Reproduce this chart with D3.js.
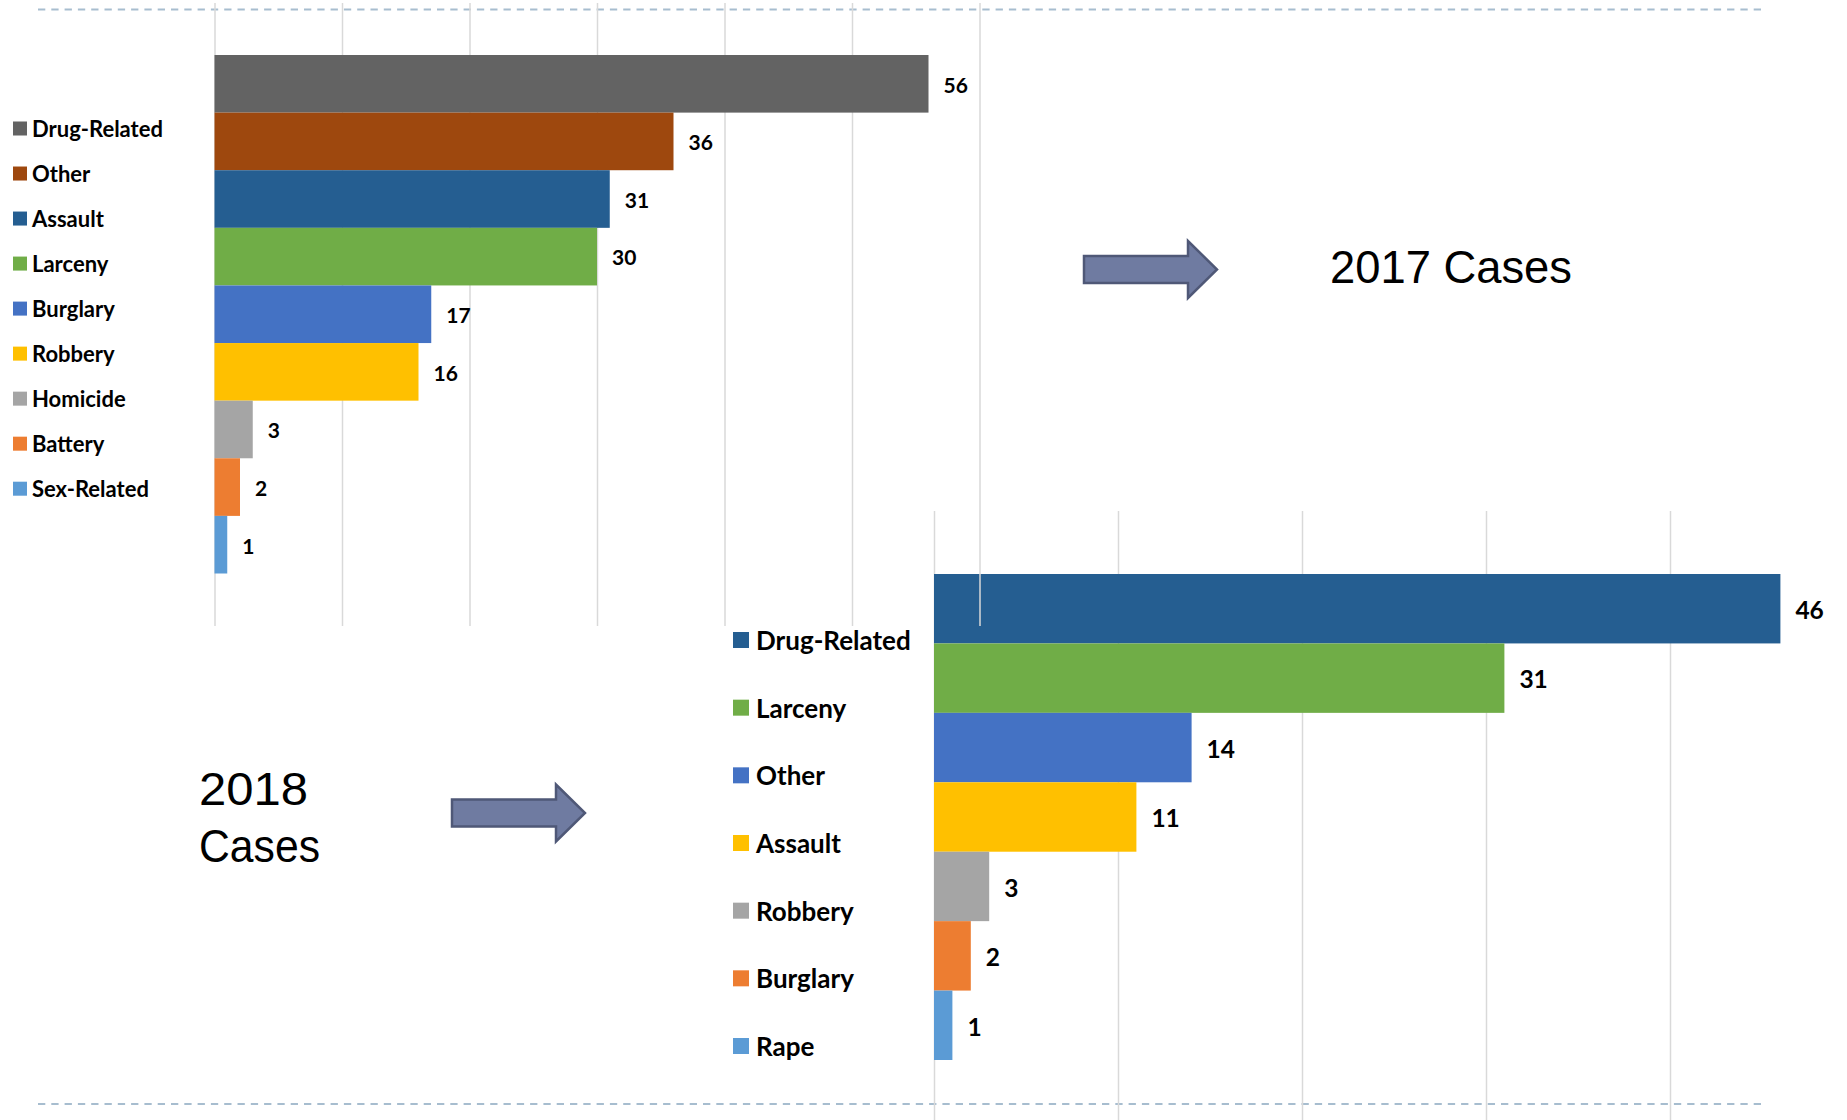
<!DOCTYPE html>
<html>
<head>
<meta charset="utf-8">
<script src="https://cdn.jsdelivr.net/npm/d3@7"></script>
<style>
  html, body { margin: 0; padding: 0; background: #ffffff; }
  svg { display: block; }
</style>
</head>
<body>
<svg id="chart" width="1847" height="1120"></svg>
<script>
// ---- Data ----
const categories2017 = ["Drug-Related", "Other", "Assault", "Larceny", "Burglary", "Robbery", "Homicide", "Battery", "Sex-Related"];
const values2017 = [56, 36, 31, 30, 17, 16, 3, 2, 1];
const categories2018 = ["Drug-Related", "Larceny", "Other", "Assault", "Robbery", "Burglary", "Rape"];
const values2018 = [46, 31, 14, 11, 3, 2, 1];
const ticks2017 = [0, 10, 20, 30, 40, 50, 60];
const ticks2018 = [0, 10, 20, 30, 40, 50];
const title2017 = ["2017 Cases"];
const title2018 = ["2018", "Cases"];

// ---- Styles ----
const colors2017 = ["#636363", "#9E480E", "#255E91", "#70AD47", "#4472C4", "#FFC000", "#A5A5A5", "#ED7D31", "#5B9BD5"];
const colors2018 = ["#255E91", "#70AD47", "#4472C4", "#FFC000", "#A5A5A5", "#ED7D31", "#5B9BD5"];
const labelFont = "Lato, 'Open Sans', sans-serif";
const titleFont = "'Liberation Sans', Arial, sans-serif";
const gridColor = "#d9d9d9";

const svg = d3.select("#chart");

// dashed separator lines
const dashY = d3.scaleLinear().domain([0, 1]).range([9.5, 1104]);
svg.selectAll("line.sep").data([0, 1]).join("line")
  .attr("class", "sep")
  .attr("x1", 38).attr("x2", 1766)
  .attr("y1", d => dashY(d)).attr("y2", d => dashY(d))
  .attr("stroke", "#A7BDCF").attr("stroke-width", 2)
  .attr("stroke-dasharray", "7.3,6");

function drawChart(g, cfg) {
  const x = d3.scaleLinear().domain(cfg.domain).range(cfg.xRange);
  const y = d3.scaleBand().domain(cfg.cats).range(cfg.yRange).padding(0);
  const data = cfg.cats.map((c, i) => ({ c, v: cfg.vals[i], col: cfg.colors[i] }));

  // gridlines via axis
  const axis = d3.axisBottom(x).tickValues(cfg.ticks).tickSize(-(cfg.gridY[1] - cfg.gridY[0])).tickFormat("");
  const ag = g.append("g").attr("transform", `translate(0,${cfg.gridY[1]})`).call(axis);
  ag.select(".domain").remove();
  ag.selectAll(".tick line").attr("stroke", gridColor).attr("stroke-width", 1.5);

  // bars
  g.selectAll("rect.bar").data(data).join("rect")
    .attr("class", "bar")
    .attr("x", x(0))
    .attr("y", d => y(d.c))
    .attr("width", d => x(d.v) - x(0))
    .attr("height", y.bandwidth())
    .attr("fill", d => d.col);

  // value labels
  g.selectAll("text.val").data(data).join("text")
    .attr("class", "val")
    .attr("x", d => x(d.v) + cfg.labelGap)
    .attr("y", d => y(d.c) + y.bandwidth() / 2)
    .attr("dy", "0.42em")
    .attr("font-family", labelFont)
    .attr("font-weight", 700)
    .attr("font-size", cfg.valSize)
    .attr("fill", "#000")
    .text(d => d.v);

  // legend
  const ly = d3.scalePoint().domain(cfg.cats).range(cfg.legY);
  const lg = g.selectAll("g.leg").data(data).join("g")
    .attr("class", "leg")
    .attr("transform", d => `translate(${cfg.legX},${ly(d.c)})`);
  lg.append("rect")
    .attr("x", 0).attr("y", -cfg.sw / 2)
    .attr("width", cfg.sw).attr("height", cfg.sw)
    .attr("fill", d => d.col);
  lg.append("text")
    .attr("x", cfg.legTextX)
    .attr("y", 0)
    .attr("dy", "0.38em")
    .attr("font-family", labelFont)
    .attr("font-weight", 700)
    .attr("font-size", cfg.legSize)
    .attr("fill", "#000")
    .text(d => d.c);
}

// 2018 chart first (2017 gridlines overlap it)
drawChart(svg.append("g"), {
  cats: categories2018, vals: values2018, colors: colors2018, ticks: ticks2018,
  domain: [0, 50], xRange: [934, 1854], yRange: [574, 1060], gridY: [511, 1120],
  labelGap: 15, valSize: 24.5, legX: 733, legTextX: 23, sw: 16, legY: [640, 1046], legSize: 26
});
drawChart(svg.append("g"), {
  cats: categories2017, vals: values2017, colors: colors2017, ticks: ticks2017,
  domain: [0, 60], xRange: [214.5, 979.5], yRange: [55, 573.5], gridY: [3, 626],
  labelGap: 15, valSize: 21, legX: 13, legTextX: 19, sw: 14, legY: [128.5, 488.7], legSize: 22
});

// arrows
function arrowPath(x0, yc) {
  const p = d3.path();
  p.moveTo(x0, yc - 13.5);
  p.lineTo(x0 + 104, yc - 13.5);
  p.lineTo(x0 + 104, yc - 28.5);
  p.lineTo(x0 + 133, yc);
  p.lineTo(x0 + 104, yc + 28.5);
  p.lineTo(x0 + 104, yc + 13.5);
  p.lineTo(x0, yc + 13.5);
  p.closePath();
  return p.toString();
}
svg.selectAll("path.arrow").data([[1084, 269.5], [452, 813]]).join("path")
  .attr("class", "arrow")
  .attr("d", d => arrowPath(d[0], d[1]))
  .attr("fill", "#6F7BA1").attr("stroke", "#4F5877").attr("stroke-width", 2.5);

// titles
svg.append("text").attr("x", 1330).attr("y", 283)
  .attr("font-family", titleFont).attr("font-size", 47).attr("fill", "#000")
  .attr("textLength", 242).attr("lengthAdjust", "spacingAndGlyphs")
  .text(title2017[0]);
const t18len = [109, 121];
svg.selectAll("text.t18").data(title2018).join("text")
  .attr("class", "t18")
  .attr("x", 199).attr("y", (d, i) => 805 + i * 57)
  .attr("font-family", titleFont).attr("font-size", 46).attr("fill", "#000")
  .attr("textLength", (d, i) => t18len[i]).attr("lengthAdjust", "spacingAndGlyphs")
  .text(d => d);
</script>
</body>
</html>
